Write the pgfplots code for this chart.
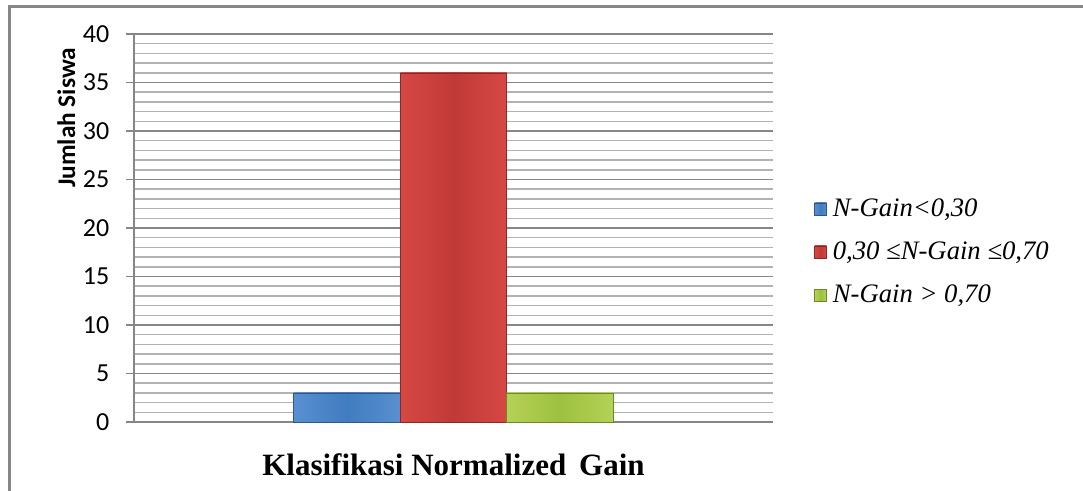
\documentclass[border=0pt]{standalone}
\usepackage{pgfplots}
\pgfplotsset{compat=1.18}
\usepackage{fontspec}
\setmainfont{Liberation Serif}
\newfontfamily\carlito{Carlito}
\definecolor{majgrid}{RGB}{134,134,134}
\definecolor{mingrid}{RGB}{178,178,178}
\definecolor{frame}{RGB}{134,134,134}
\definecolor{bblue}{RGB}{66,124,192}
\definecolor{bblueL}{RGB}{88,144,208}
\definecolor{bred}{RGB}{192,58,55}
\definecolor{bredL}{RGB}{214,72,68}
\definecolor{bgreen}{RGB}{158,192,64}
\definecolor{bgreenL}{RGB}{180,210,86}
\begin{document}
\begin{tikzpicture}
\begin{axis}[
  scale only axis,
  width=479.25pt, height=291pt,
  xmin=-3, xmax=3, ymin=0, ymax=40,
  axis x line=none,
  axis y line*=left,
  axis line style={majgrid, line width=1.1pt},
  ytick={0,5,...,40},
  minor y tick num=4,
  xtick=\empty,
  tick align=outside,
  major tick length=6pt,
  minor tick length=0pt,
  y tick style={majgrid, line width=1.1pt},
  ymajorgrids, yminorgrids,
  major grid style={majgrid, line width=1.1pt},
  minor grid style={mingrid, line width=1.1pt},
  /pgf/number format/assume math mode=true,
  yticklabel style={font=\carlito\fontsize{19.5pt}{22pt}\selectfont, xshift=-9pt},
  ylabel={\carlito\bfseries\fontsize{19pt}{22pt}\selectfont Jumlah Siswa},
  ylabel style={at={(rel axis cs:-0.106,0.784)}, anchor=center},
  ybar, bar width=1, bar shift=0pt,
  clip=false,
  legend style={at={(rel axis cs:1.058,0.589)}, anchor=north west, draw=none, fill=none,
    font=\itshape\fontsize{20pt}{24pt}\selectfont, row sep=13.5pt,
    legend cell align=left, nodes={inner xsep=4.5pt}},
  legend image code/.code={\fill[#1] (0pt,-4.5pt) rectangle (9pt,4.5pt);},
]
\addplot[draw=bblue!70!black, line width=0.4pt, left color=bblueL, right color=bblueL, middle color=bblue] coordinates {(-1,3)};
\addlegendentry{N-Gain<0,30}
\addplot[draw=bred!70!black, line width=0.4pt, left color=bredL, right color=bredL, middle color=bred] coordinates {(0,36)};
\addlegendentry{0,30 ≤N-Gain ≤0,70}
\addplot[draw=bgreen!70!black, line width=0.4pt, left color=bgreenL, right color=bgreenL, middle color=bgreen] coordinates {(1,3)};
\addlegendentry{N-Gain > 0,70}
\coordinate (bl) at (rel axis cs:-0.2097,-0.1778);
\coordinate (tr) at (rel axis cs:1.4851,1.0876);
\coordinate (fl) at (rel axis cs:-0.1948,-0.1778);
\coordinate (ft) at (rel axis cs:1.4851,1.0709);
\coordinate (fc) at (rel axis cs:-0.1948,1.0709);
\node[font=\bfseries\fontsize{23.25pt}{26pt}\selectfont, anchor=center] at (rel axis cs:0.5,-0.111) {Klasifikasi Normalized\ \,Gain};
\end{axis}
\draw[frame, line width=2.6pt] (fl) -- (fc) -- (ft);
\pgfresetboundingbox
\useasboundingbox (bl) rectangle (tr);
\end{tikzpicture}
\end{document}
